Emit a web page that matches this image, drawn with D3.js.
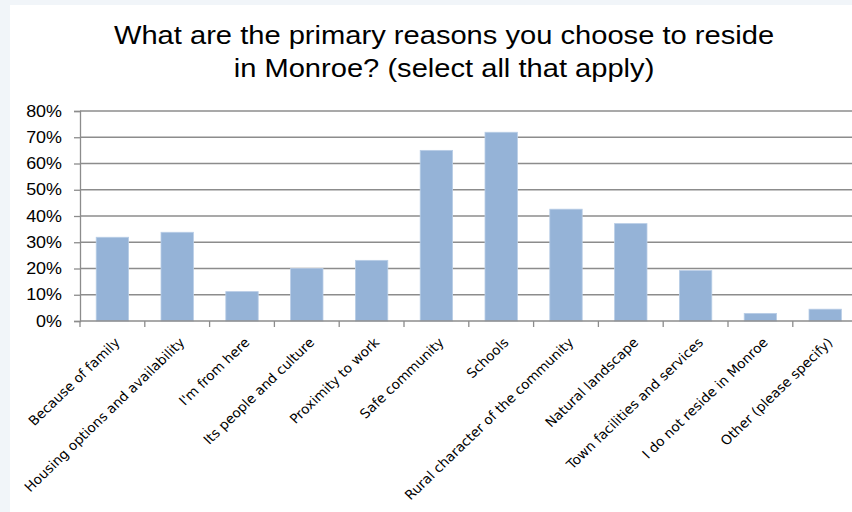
<!DOCTYPE html>
<html>
<head>
<meta charset="utf-8">
<script src="https://cdn.jsdelivr.net/npm/d3@7"></script>
<style>
  html, body { margin: 0; padding: 0; background: #f1f5f9; }
  svg { display: block; }
</style>
</head>
<body>
<script>
// Survey responses: share of respondents selecting each reason
const categories = [
  "Because of family",
  "Housing options and availability",
  "I'm from  here",
  "Its people and culture",
  "Proximity to work",
  "Safe community",
  "Schools",
  "Rural character of the community",
  "Natural landscape",
  "Town facilities and services",
  "I do not reside in Monroe",
  "Other (please specify)"
];
const values = [0.319, 0.338, 0.112, 0.200, 0.231, 0.650, 0.719, 0.426, 0.371, 0.192, 0.029, 0.045];
const yTicks = [0, 0.1, 0.2, 0.3, 0.4, 0.5, 0.6, 0.7, 0.8];
const titleLines = ["What are the primary reasons you choose to reside", "in Monroe? (select all that apply)"];

const W = 852, H = 512;
const titleStretch = 1.12, labelStretch = 1.04;   // text is drawn slightly widened
const svg = d3.select("body").append("svg").attr("width", W).attr("height", H);
svg.style("white-space", "pre");

// white chart panel on the pale backdrop
svg.append("rect").attr("x", 10).attr("y", 5).attr("width", W - 10).attr("height", H - 5).attr("fill", "#ffffff");

const plotLeft = 80, bandW = 64.8, plotTop = 111, plotBottom = 321;
const x = d3.scaleBand().domain(categories).range([plotLeft, plotLeft + bandW * categories.length]).paddingInner(0.5).paddingOuter(0.25);
const y = d3.scaleLinear().domain([0, 0.8]).range([plotBottom, plotTop]);

// title
svg.append("g").selectAll("text").data(titleLines).join("text")
  .attr("transform", (d, i) => `translate(444,${43.5 + i * 33.5}) scale(${titleStretch},1)`)
  .attr("text-anchor", "middle")
  .attr("font-family", "Liberation Sans, Arial, Helvetica, sans-serif")
  .attr("font-size", 26)
  .attr("fill", "#000")
  .text(d => d);

// horizontal gridlines
svg.append("g").selectAll("line").data(yTicks.slice(1)).join("line")
  .attr("x1", plotLeft).attr("x2", W)
  .attr("y1", d => y(d)).attr("y2", d => y(d))
  .attr("stroke", "#8c8c8c").attr("stroke-width", 1.3);

// bars
svg.append("g").selectAll("rect").data(values).join("rect")
  .attr("x", (d, i) => x(categories[i]))
  .attr("width", x.bandwidth())
  .attr("y", d => y(d))
  .attr("height", d => plotBottom - y(d))
  .attr("fill", "#95b3d7")
  .attr("stroke", "#b8cde6").attr("stroke-width", 0.8);

// y axis line and ticks
const yAxis = d3.axisLeft(y).tickValues(yTicks).tickFormat("").tickSize(6);
const gy = svg.append("g").attr("transform", `translate(${plotLeft},0)`).call(yAxis);
gy.select(".domain").attr("stroke", "#8c8c8c").attr("stroke-width", 1.3);
gy.selectAll(".tick line").attr("stroke", "#8c8c8c").attr("stroke-width", 1.3);

// y tick labels
const pct = d3.format(".0%");
svg.append("g").selectAll("text").data(yTicks).join("text")
  .attr("transform", d => `translate(62,${y(d) + 5.5}) scale(${titleStretch},1)`)
  .attr("text-anchor", "end")
  .attr("font-family", "Liberation Sans, Arial, Helvetica, sans-serif")
  .attr("font-size", 16)
  .attr("fill", "#000")
  .text(d => pct(d));

// x axis: baseline with ticks at band boundaries
const boundaries = d3.range(categories.length + 1).map(i => plotLeft + i * bandW);
svg.append("line").attr("x1", plotLeft).attr("x2", W).attr("y1", plotBottom).attr("y2", plotBottom)
  .attr("stroke", "#8c8c8c").attr("stroke-width", 1.3);
svg.append("g").selectAll("line").data(boundaries).join("line")
  .attr("x1", d => d).attr("x2", d => d).attr("y1", plotBottom).attr("y2", plotBottom + 6)
  .attr("stroke", "#8c8c8c").attr("stroke-width", 1.3);

// rotated category labels
svg.append("g").selectAll("text").data(categories).join("text")
  .attr("transform", d => `translate(${x(d) + x.bandwidth() / 2 + 5},${plotBottom + 19}) scale(${labelStretch},1) rotate(-45)`)
  .attr("text-anchor", "end")
  .attr("dy", "0.35em")
  .attr("font-family", "DejaVu Sans, Verdana, sans-serif")
  .attr("font-size", 13.2)
  .attr("fill", "#000")
  .text(d => d);
</script>
</body>
</html>
